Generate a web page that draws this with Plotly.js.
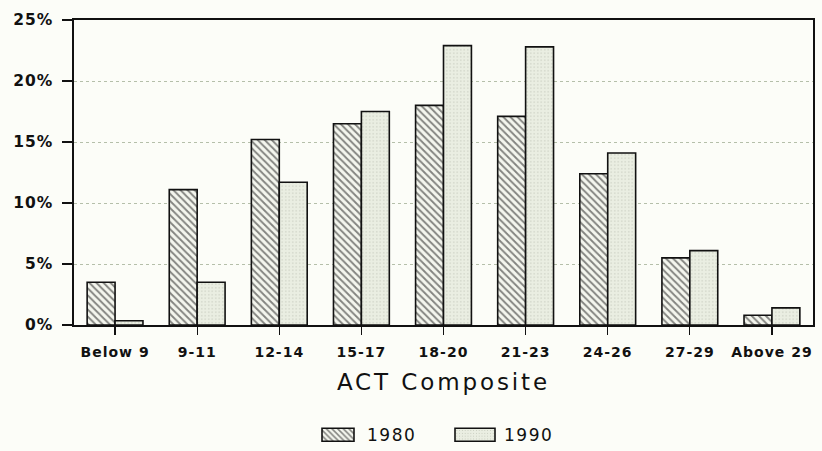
<!DOCTYPE html>
<html>
<head>
<meta charset="utf-8">
<script src="https://cdn.plot.ly/plotly-3.0.1.min.js"></script>
<style>
  html, body { margin: 0; padding: 0; background: #fcfdf8; }
  #chart { width: 822px; height: 451px; }
  #chart .xtick text { letter-spacing: 1px; }
  #chart .ytick text { letter-spacing: 1px; }
  #chart .g-xtitle text { letter-spacing: 2.9px; }
  #chart .legendtext { letter-spacing: 1.5px; }
</style>
</head>
<body>
<div id="chart"></div>
<script>
const categories = ["Below 9", "9-11", "12-14", "15-17", "18-20", "21-23", "24-26", "27-29", "Above 29"];
const values1980 = [3.5, 11.1, 15.2, 16.5, 18.0, 17.1, 12.4, 5.5, 0.8];
const values1990 = [0.35, 3.5, 11.7, 17.5, 22.9, 22.8, 14.1, 6.1, 1.4];
const seriesNames = ["1980", "1990"];
const yTicks = [0, 5, 10, 15, 20, 25];

const font = "DejaVu Sans, Liberation Sans, Arial, sans-serif";

const traces = [
  {
    type: "bar",
    name: seriesNames[0],
    x: categories,
    y: values1980,
    marker: {
      color: "#f4f6ee",
      line: { color: "#111", width: 1.6 },
      pattern: { shape: "\\", fgcolor: "#111", bgcolor: "#f4f6ee", size: 5, solidity: 0.38, fillmode: "overlay" }
    },
    hoverinfo: "x+y"
  },
  {
    type: "bar",
    name: seriesNames[1],
    x: categories,
    y: values1990,
    marker: {
      color: "#eaeee2",
      line: { color: "#111", width: 1.6 },
      pattern: { shape: ".", fgcolor: "#8d9384", bgcolor: "#eaeee2", size: 3.5, solidity: 0.1, fillmode: "overlay" }
    },
    hoverinfo: "x+y"
  }
];

const layout = {
  width: 822,
  height: 451,
  paper_bgcolor: "#fcfdf8",
  plot_bgcolor: "#fcfdf8",
  margin: { l: 74, r: 9, t: 20, b: 126, autoexpand: false },
  barmode: "group",
  bargap: 0.32,
  bargroupgap: 0,
  font: { family: font, color: "#111" },
  xaxis: {
    type: "category",
    automargin: false,
    showline: true,
    linecolor: "#111",
    linewidth: 1.6,
    mirror: true,
    ticks: "outside",
    ticklen: 8,
    tickcolor: "#111",
    tickwidth: 1.2,
    ticklabelstandoff: 6,
    tickfont: { family: font, size: 14, color: "#111", weight: "bold" },
    title: { text: "ACT Composite", font: { family: font, size: 23, color: "#111" }, standoff: 14 },
    showgrid: false
  },
  yaxis: {
    range: [0, 25],
    automargin: false,
    tickvals: yTicks,
    ticktext: yTicks.map(v => v + "%"),
    showline: true,
    linecolor: "#111",
    linewidth: 1.6,
    mirror: true,
    ticks: "outside",
    ticklen: 10,
    tickcolor: "#111",
    tickwidth: 1.2,
    ticklabelstandoff: 6,
    tickfont: { family: font, size: 15.5, color: "#111", weight: "bold" },
    showgrid: true,
    gridcolor: "#b5bfaa",
    griddash: "dot",
    gridwidth: 1,
    zeroline: false
  },
  showlegend: true,
  legend: {
    orientation: "h",
    x: 0.318,
    xanchor: "left",
    yref: "container",
    y: 0.035,
    yanchor: "middle",
    font: { family: font, size: 17, color: "#111" },
    itemwidth: 48,
    entrywidth: 74,
    entrywidthmode: "pixels",
    traceorder: "normal",
    bgcolor: "rgba(0,0,0,0)"
  }
};

Plotly.newPlot("chart", traces, layout, { displayModeBar: false, staticPlot: true }).then(function () {
  // widen the legend swatches into the flat boxes of the original
  const halfWidths = [16, 20];
  document.querySelectorAll("#chart .legend .traces").forEach(function (g, i) {
    g.querySelectorAll(".legendpoints path").forEach(function (p) {
      const w = halfWidths[i] || 16;
      p.setAttribute("d", "M" + w + ",6.5H-" + w + "V-6.5H" + w + "Z");
    });
  });
});
</script>
</body>
</html>
